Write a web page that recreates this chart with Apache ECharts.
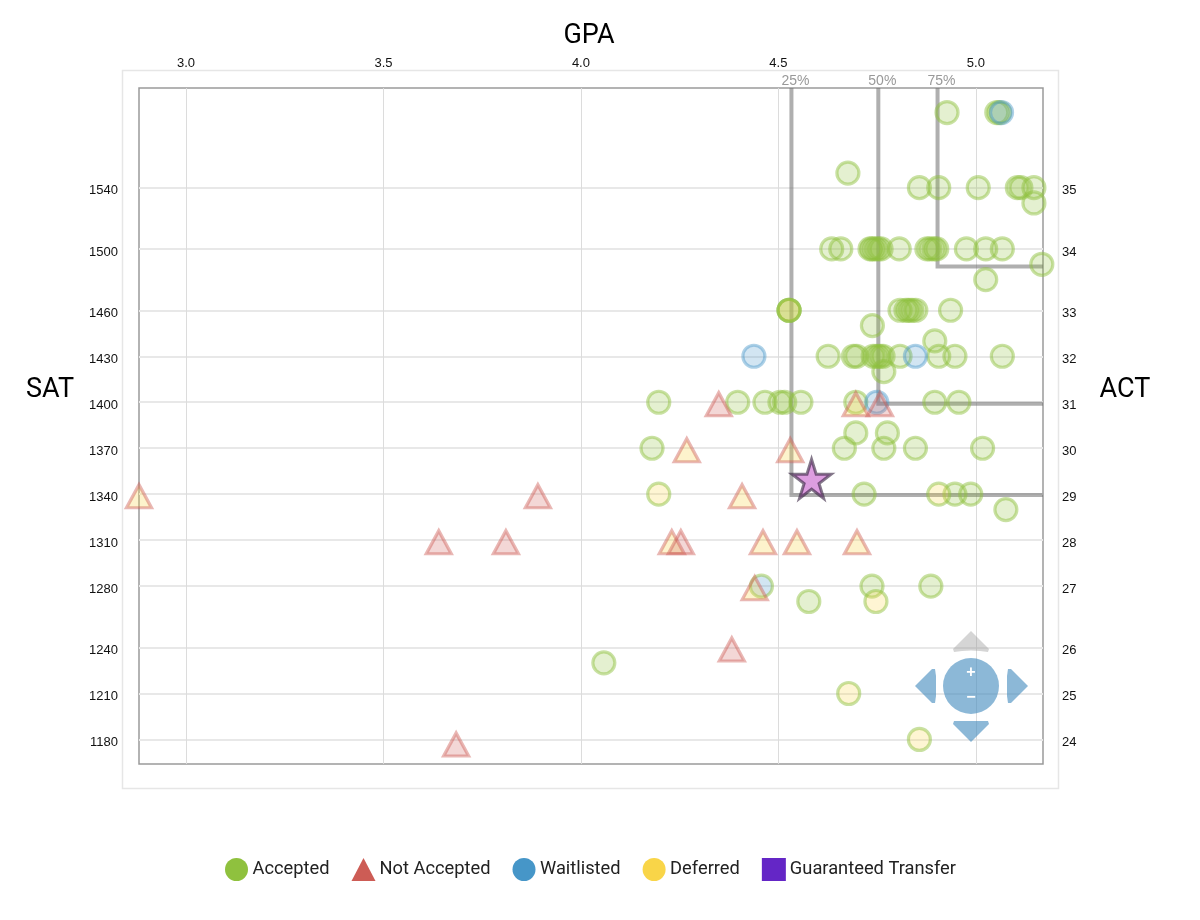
<!DOCTYPE html>
<html>
<head>
<meta charset="utf-8">
<style>html,body{margin:0;padding:0;background:#fff}#c{width:1200px;height:920px}</style>
<script src="https://cdn.jsdelivr.net/npm/echarts@6/dist/echarts.min.js"></script>
</head>
<body>
<div id="c"></div>
<script>
const gpaTicks = [3.0, 3.5, 4.0, 4.5, 5.0];
const satTicks = [1180, 1210, 1240, 1280, 1310, 1340, 1370, 1400, 1430, 1460, 1500, 1540];
const actTicks = [24, 25, 26, 27, 28, 29, 30, 31, 32, 33, 34, 35];

const accepted = [
  [4.927,1589],[5.053,1589],[5.060,1589],
  [4.676,1549.5],
  [4.857,1540],[4.906,1540],[5.006,1540],[5.105,1540],[5.114,1540],[5.147,1540],
  [5.147,1530],
  [4.635,1500],[4.658,1500],[4.732,1500],[4.737,1500],[4.744,1500],[4.752,1500],[4.760,1500],[4.806,1500],
  [4.876,1500],[4.884,1500],[4.894,1500],[4.901,1500],[4.976,1500],[5.025,1500],[5.067,1500],
  [5.167,1490],[5.025,1480],
  [4.527,1460],[4.527,1460],[4.808,1460],[4.823,1460],[4.830,1460],[4.838,1460],[4.848,1460],[4.936,1460],
  [4.738,1450],[4.896,1440],
  [4.626,1430],[4.690,1430],[4.698,1430],[4.740,1430],[4.749,1430],[4.757,1430],[4.765,1430],[4.808,1430],
  [4.906,1430],[4.947,1430],[5.067,1430],
  [4.767,1420],
  [4.197,1400],[4.397,1400],[4.466,1400],[4.504,1400],[4.516,1400],[4.557,1400],[4.696,1400],[4.896,1400],[4.957,1400],
  [4.696,1380],[4.776,1380],
  [4.180,1370],[4.667,1370],[4.767,1370],[4.847,1370],[5.017,1370],
  [4.717,1340],[4.947,1340],[4.987,1340],
  [5.076,1330],
  [4.737,1280],[4.886,1280],
  [4.577,1270],[4.058,1230]
];
const notAccepted = [
  [4.757,1400],[4.349,1400],[3.891,1340],[3.640,1310],[3.810,1310],[4.253,1310],[4.382,1240],[3.684,1178]
];
const waitlisted = [[5.065,1589],[4.438,1430],[4.847,1430],[4.749,1400]];
const deferred = [[4.527,1460]];
const guaranteedTransfer = [];
const deferredThenDenied = [
  [4.696,1400],[4.268,1370],[4.530,1370],[2.881,1340],[4.408,1340],[4.230,1310],[4.461,1310],[4.547,1310],[4.699,1310],[4.440,1280]
];
const deferredThenAccepted = [[4.197,1340],[4.906,1340],[4.747,1270],[4.678,1210],[4.857,1180]];
const waitlistedThenAccepted = [[4.457,1280]];
const applicant = [[4.584,1350]];

const percentileNames = ['25%', '50%', '75%'];
const percentileGpa = [4.533, 4.753, 4.903];
const percentileSat = [1339.5, 1399, 1488.5];

const xMin = 2.881, xMax = 5.17, yMin = 1164, yMax = 1605;

const GREEN = '143,193,62', RED = '205,92,85', BLUE = '70,150,200', YELLOW = '249,213,72';
const rgba = (c, a) => `rgba(${c},${a})`;
const SANS = '"Liberation Sans", Arial, sans-serif';
const ROBOTO = 'Roboto, sans-serif';

function marks(name, data, symbol, size, fill, fa, stroke, sa, offset) {
  return {
    name, type: 'scatter', data, symbol, symbolSize: size, symbolOffset: offset || [0, 0], clip: false, z: 5,
    itemStyle: { color: rgba(fill, fa), borderColor: rgba(stroke, sa), borderWidth: 3.2 },
    emphasis: { disabled: true }
  };
}

const CIRCLE = 22, TRI = [25, 23], TRI_OFFSET = [0, 2];
const series = [
  marks('Accepted', accepted, 'circle', CIRCLE, GREEN, 0.3, GREEN, 0.6),
  marks('Deferred', deferred, 'circle', CIRCLE, YELLOW, 0.3, GREEN, 0.6),
  marks('Deferred accepted', deferredThenAccepted, 'circle', CIRCLE, YELLOW, 0.3, GREEN, 0.6),
  marks('Waitlisted accepted', waitlistedThenAccepted, 'circle', CIRCLE, BLUE, 0.3, GREEN, 0.6),
  marks('Waitlisted', waitlisted, 'circle', CIRCLE, BLUE, 0.3, BLUE, 0.55),
  marks('Deferred denied', deferredThenDenied, 'triangle', TRI, YELLOW, 0.35, RED, 0.55, TRI_OFFSET),
  marks('Not Accepted', notAccepted, 'triangle', TRI, RED, 0.3, RED, 0.55, TRI_OFFSET),
  marks('Guaranteed Transfer', guaranteedTransfer, 'rect', 20, '100,38,198', 1, '100,38,198', 1)
];

percentileNames.forEach((name, i) => {
  series.push({
    name: 'Percentile ' + name, type: 'line', showSymbol: false, symbol: 'none', z: 3, silent: true,
    data: [[percentileGpa[i], yMax], [percentileGpa[i], percentileSat[i]], [xMax, percentileSat[i]]],
    lineStyle: { color: 'rgba(110,110,110,0.55)', width: 4, join: 'miter' }
  });
});
series.push({
  name: 'Percentile labels', type: 'scatter', symbolSize: 0, silent: true, clip: false, z: 6,
  data: percentileNames.map((n, i) => ({ value: [percentileGpa[i], yMax], name: n })),
  label: { show: true, position: 'top', distance: 0, offset: [4, 0], formatter: p => p.name,
           color: '#808080', fontSize: 14, fontFamily: SANS }
});
series.push({
  name: 'Applicant', type: 'scatter', data: applicant, symbol: 'path://M50 0 L61.8 36.2 L100 36.2 L69.1 58.8 L80.9 95.1 L50 72.6 L19.1 95.1 L30.9 58.8 L0 36.2 L38.2 36.2 Z',
  symbolSize: 39, clip: false, z: 8,
  itemStyle: { color: '#d484d8', borderColor: 'rgba(50,30,60,0.75)', borderWidth: 3, borderJoin: 'miter' },
  emphasis: { disabled: true }
});

const CTRL = 'rgba(70,140,190,0.62)';
const controls = [
  { type: 'polygon', shape: { points: [[971,631],[989,649],[988,652],[980,651],[971,650.5],[962,651],[954,652],[953,649]] }, style: { fill: 'rgba(150,150,150,0.4)' } },
  { type: 'polygon', shape: { points: [[971,742],[989,724],[988,721],[954,721],[953,724]] }, style: { fill: CTRL } },
  { type: 'polygon', shape: { points: [[915,686],[932,669],[935,669],[936,676],[936,696],[935,703],[932,703]] }, style: { fill: CTRL } },
  { type: 'polygon', shape: { points: [[1028,686],[1011,669],[1008,669],[1007,676],[1007,696],[1008,703],[1011,703]] }, style: { fill: CTRL } },
  { type: 'circle', shape: { cx: 971, cy: 686, r: 28 }, style: { fill: CTRL } },
  { type: 'text', style: { x: 971, y: 673, text: '+', fill: '#fff', font: 'bold 16px ' + SANS, align: 'center', verticalAlign: 'middle' } },
  { type: 'text', style: { x: 971, y: 698, text: '\u2212', fill: '#fff', font: 'bold 16px ' + SANS, align: 'center', verticalAlign: 'middle' } }
].map(o => Object.assign(o, { silent: true, z: 100 }));

const TITLE_FONT = '27px ' + ROBOTO;
const sideTitles = [
  { type: 'text', silent: true, style: { x: 50, y: 390, text: 'SAT', fill: '#000', font: TITLE_FONT, align: 'center', verticalAlign: 'middle' } },
  { type: 'text', silent: true, style: { x: 1125, y: 390, text: 'ACT', fill: '#000', font: TITLE_FONT, align: 'center', verticalAlign: 'middle' } }
];

const option = {
  animation: false,
  backgroundColor: '#fff',
  grid: { left: 139, top: 88, width: 904, height: 676, show: true, borderColor: '#9a9a9a', borderWidth: 1.5, backgroundColor: 'transparent' },
  xAxis: {
    type: 'value', position: 'top', min: xMin, max: xMax,
    name: 'GPA', nameLocation: 'middle', nameGap: 38,
    nameTextStyle: { color: '#000', fontSize: 27, fontFamily: ROBOTO, padding: [0, 4, 0, 0] },
    axisLine: { show: false }, axisTick: { show: false, customValues: gpaTicks },
    axisLabel: { customValues: gpaTicks, formatter: v => v.toFixed(1), color: '#111', fontSize: 13, fontFamily: SANS, margin: 18 },
    splitLine: { show: true, lineStyle: { color: '#dcdcdc', width: 1 } }
  },
  yAxis: [
    {
      type: 'value', min: yMin, max: yMax, position: 'left',
      axisLine: { show: false }, axisTick: { show: false, customValues: satTicks },
      axisLabel: { customValues: satTicks, formatter: v => String(v), color: '#111', fontSize: 13, fontFamily: SANS, margin: 21, verticalAlign: 'top', lineHeight: 6 },
      splitLine: { show: true, lineStyle: { color: '#e8e8e8', width: 2 } }
    },
    {
      type: 'value', min: yMin, max: yMax, position: 'right',
      axisLine: { show: false }, axisTick: { show: false, customValues: satTicks },
      axisLabel: { customValues: satTicks, formatter: v => String(actTicks[satTicks.indexOf(v)]), color: '#111', fontSize: 13, fontFamily: SANS, margin: 19, verticalAlign: 'top', lineHeight: 6 },
      splitLine: { show: false }
    }
  ],
  legend: {
    left: 225, top: 858, padding: 0, itemWidth: 24, itemHeight: 23, itemGap: 22, selectedMode: false,
    textStyle: { color: '#222', fontSize: 18.3, fontFamily: ROBOTO, padding: [0, 0, 0, -1] },
    data: [
      { name: 'Accepted', icon: 'circle', itemStyle: { color: '#8fc13e', borderWidth: 0, opacity: 1 } },
      { name: 'Not Accepted', icon: 'triangle', itemStyle: { color: '#cd5c55', borderWidth: 0, opacity: 1 } },
      { name: 'Waitlisted', icon: 'circle', itemStyle: { color: '#4696c8', borderWidth: 0, opacity: 1 } },
      { name: 'Deferred', icon: 'circle', itemStyle: { color: '#f9d548', borderWidth: 0, opacity: 1 } },
      { name: 'Guaranteed Transfer', icon: 'rect', itemStyle: { color: '#6426c6', borderWidth: 0, opacity: 1 } }
    ]
  },
  graphic: [
    { type: 'rect', silent: true, z: -1, shape: { x: 122.5, y: 70.5, width: 936, height: 718 }, style: { fill: 'none', stroke: '#e6e6e6', lineWidth: 1.5 } }
  ].concat(sideTitles, controls),
  series
};
echarts.init(document.getElementById('c'), null, { renderer: 'canvas' }).setOption(option);
</script>
</body>
</html>
